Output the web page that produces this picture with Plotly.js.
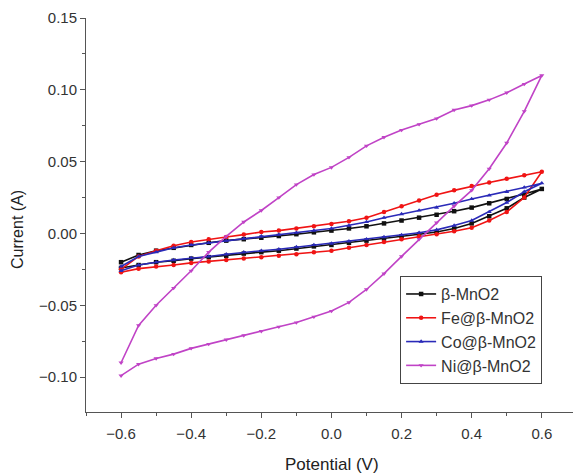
<!DOCTYPE html>
<html>
<head>
<meta charset="utf-8">
<script src="https://cdn.plot.ly/plotly-3.0.1.min.js"></script>
<style>html,body{margin:0;padding:0;background:#fff;}#chart{width:573px;height:475px;}</style>
</head>
<body>
<div id="chart"></div>
<script>
// Potential grid (V): forward sweep then reverse sweep
const potentialForward = [-0.6,-0.55,-0.5,-0.45,-0.4,-0.35,-0.3,-0.25,-0.2,-0.15,-0.1,-0.05,0,0.05,0.1,0.15,0.2,0.25,0.3,0.35,0.4,0.45,0.5,0.55,0.6];
const potentialReverse = [0.55,0.5,0.45,0.4,0.35,0.3,0.25,0.2,0.15,0.1,0.05,0,-0.05,-0.1,-0.15,-0.2,-0.25,-0.3,-0.35,-0.4,-0.45,-0.5,-0.55,-0.6];

const seriesNames = ["β-MnO2","Fe@β-MnO2","Co@β-MnO2","Ni@β-MnO2"];

// Current (A)
const mnoForward = [-0.020,-0.015,-0.012,-0.010,-0.008,-0.0065,-0.005,-0.004,-0.003,-0.0018,-0.0005,0.0008,0.002,0.0035,0.005,0.007,0.009,0.011,0.013,0.0155,0.018,0.021,0.024,0.0275,0.031];
const mnoReverse = [0.025,0.0175,0.012,0.007,0.0035,0.001,-0.0005,-0.002,-0.0035,-0.005,-0.0065,-0.008,-0.009,-0.0105,-0.012,-0.013,-0.014,-0.0155,-0.0165,-0.0175,-0.019,-0.020,-0.022,-0.024];

const feForward = [-0.025,-0.016,-0.012,-0.0085,-0.006,-0.004,-0.0025,-0.0008,0.001,0.002,0.0035,0.005,0.0065,0.0085,0.011,0.015,0.019,0.023,0.027,0.030,0.033,0.0355,0.038,0.0405,0.043];
const feReverse = [0.025,0.015,0.009,0.004,0.0015,-0.0005,-0.002,-0.004,-0.006,-0.008,-0.010,-0.012,-0.013,-0.0145,-0.0155,-0.0165,-0.0175,-0.0185,-0.0195,-0.0205,-0.022,-0.023,-0.0245,-0.027];

const coForward = [-0.023,-0.016,-0.013,-0.010,-0.008,-0.0065,-0.005,-0.0035,-0.002,-0.0008,0.0005,0.002,0.0035,0.0055,0.008,0.011,0.0135,0.016,0.018,0.021,0.024,0.0265,0.029,0.032,0.035];
const coReverse = [0.029,0.0215,0.015,0.009,0.0055,0.0025,0.0005,-0.001,-0.0025,-0.004,-0.0055,-0.007,-0.008,-0.0095,-0.011,-0.012,-0.013,-0.0145,-0.016,-0.017,-0.0185,-0.020,-0.022,-0.026];

const niForward = [-0.090,-0.064,-0.050,-0.038,-0.026,-0.013,-0.002,0.008,0.016,0.025,0.034,0.041,0.046,0.053,0.061,0.067,0.072,0.076,0.080,0.086,0.089,0.093,0.098,0.104,0.110];
const niReverse = [0.085,0.063,0.045,0.030,0.019,0.0075,-0.004,-0.016,-0.028,-0.039,-0.048,-0.054,-0.058,-0.062,-0.065,-0.068,-0.071,-0.074,-0.077,-0.080,-0.084,-0.087,-0.091,-0.099];

const colors = ["#111111","#f01414","#2a2ab8","#c043c6"];
const symbols = ["square","circle","triangle-up","triangle-down"];
const currents = [
  mnoForward.concat(mnoReverse),
  feForward.concat(feReverse),
  coForward.concat(coReverse),
  niForward.concat(niReverse)
];
const potential = potentialForward.concat(potentialReverse);

const traces = seriesNames.map((name,i)=>({
  x: potential,
  y: currents[i],
  name: name,
  type: "scatter",
  mode: "lines+markers",
  line: {color: colors[i], width: 1.6},
  marker: {color: colors[i], symbol: symbols[i], size: 4.5}
}));

const fam = "Liberation Sans, Arial, sans-serif";
const axisFont = {family: fam, size: 15, color: "#333"};
const layout = {
  width: 573, height: 475,
  margin: {l: 86, r: 0, t: 18, b: 63},
  paper_bgcolor: "#fff", plot_bgcolor: "#fff",
  showlegend: true,
  legend: {
    x: 0.645, y: 0.345, xanchor: "left", yanchor: "top",
    bordercolor: "#444", borderwidth: 1, bgcolor: "#fff",
    font: {family: fam, size: 16, color: "#333"},
    tracegroupgap: 0, itemwidth: 30
  },
  xaxis: {
    range: [-0.7, 0.689], dtick: 0.2, tick0: 0, tickformat: ".1f",
    showgrid: false, zeroline: false, showline: true, linecolor: "#555", linewidth: 1,
    ticks: "outside", ticklen: 5, tickcolor: "#555", ticklabelstandoff: 3,
    minor: {dtick: 0.1, ticks: "outside", ticklen: 3, tickcolor: "#555", showgrid: false},
    tickfont: axisFont
  },
  yaxis: {
    range: [-0.1243, 0.15], dtick: 0.05, tick0: 0, tickformat: ".2f",
    showgrid: false, zeroline: false, showline: true, linecolor: "#555", linewidth: 1,
    ticks: "outside", ticklen: 5, tickcolor: "#555",
    minor: {dtick: 0.025, ticks: "outside", ticklen: 3, tickcolor: "#555", showgrid: false},
    tickfont: axisFont
  },
  annotations: [
    {text: "Potential (V)", xref: "paper", yref: "paper", x: 0.505, y: -0.1345,
     xanchor: "center", yanchor: "middle", showarrow: false,
     font: {family: fam, size: 17, color: "#222"}},
    {text: "Current (A)", xref: "paper", yref: "paper", x: -0.1396, y: 0.462,
     xanchor: "center", yanchor: "middle", showarrow: false, textangle: -90,
     font: {family: fam, size: 16, color: "#222"}}
  ]
};

Plotly.newPlot("chart", traces, layout, {displayModeBar: false, staticPlot: true});
</script>
</body>
</html>
